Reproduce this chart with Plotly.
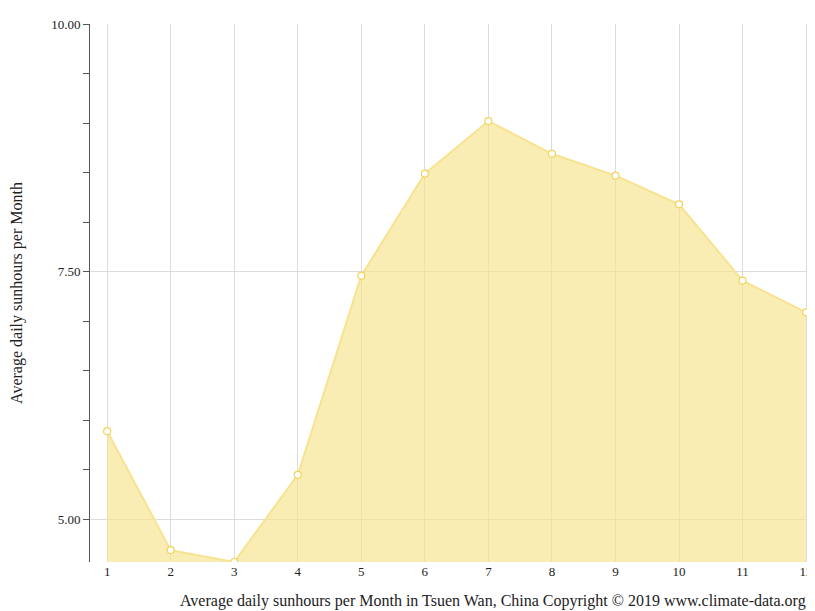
import plotly.graph_objects as go

months = [1, 2, 3, 4, 5, 6, 7, 8, 9, 10, 11, 12]
sunhours = [5.89, 4.69, 4.57, 5.45, 7.46, 8.49, 9.02, 8.69, 8.47, 8.18, 7.41, 7.09]

fig = go.Figure()
fig.add_trace(go.Scatter(
    x=months, y=sunhours, mode="lines+markers", fill="tozeroy",
    fillcolor="rgba(247,228,140,0.65)",
    line=dict(color="#f7e38f", width=2),
    marker=dict(size=7, color="white", line=dict(color="#f2d35a", width=1.2)),
    hoverinfo="x+y",
))

fig.update_layout(
    width=815, height=611,
    margin=dict(l=82, r=15, t=16, b=57, autoexpand=False),
    plot_bgcolor="white", paper_bgcolor="white",
    font=dict(family="Liberation Serif", size=13, color="#222"),
    showlegend=False,
    xaxis=dict(
        range=[0.73, 12.03], tickvals=months, showgrid=True, gridcolor="#dcdcdc",
        zeroline=False, showline=False, ticks="", ticklen=0, automargin=False,
    ),
    yaxis=dict(
        range=[4.57, 10], tickvals=[5, 7.5, 10], tickformat=".2f", automargin=False,
        showgrid=True, gridcolor="#dcdcdc", zeroline=False,
        showline=True, linecolor="#555", ticks="outside", ticklen=6, tickcolor="#555",
        minor=dict(tickvals=[5.5, 6.0, 6.5, 7.0, 8.0, 8.5, 9.0, 9.5], ticks="outside",
                   ticklen=6, tickcolor="#555", showgrid=False),
        title=dict(text="Average daily sunhours per Month", font=dict(size=16), standoff=30),
    ),
    annotations=[dict(
        text="Average daily sunhours per Month in Tsuen Wan, China Copyright © 2019 www.climate-data.org",
        xref="paper", yref="paper", x=1.0, y=0, xanchor="right", yanchor="top",
        yshift=-28, showarrow=False, font=dict(size=16),
    )],
)

fig.write_html("out.html")
